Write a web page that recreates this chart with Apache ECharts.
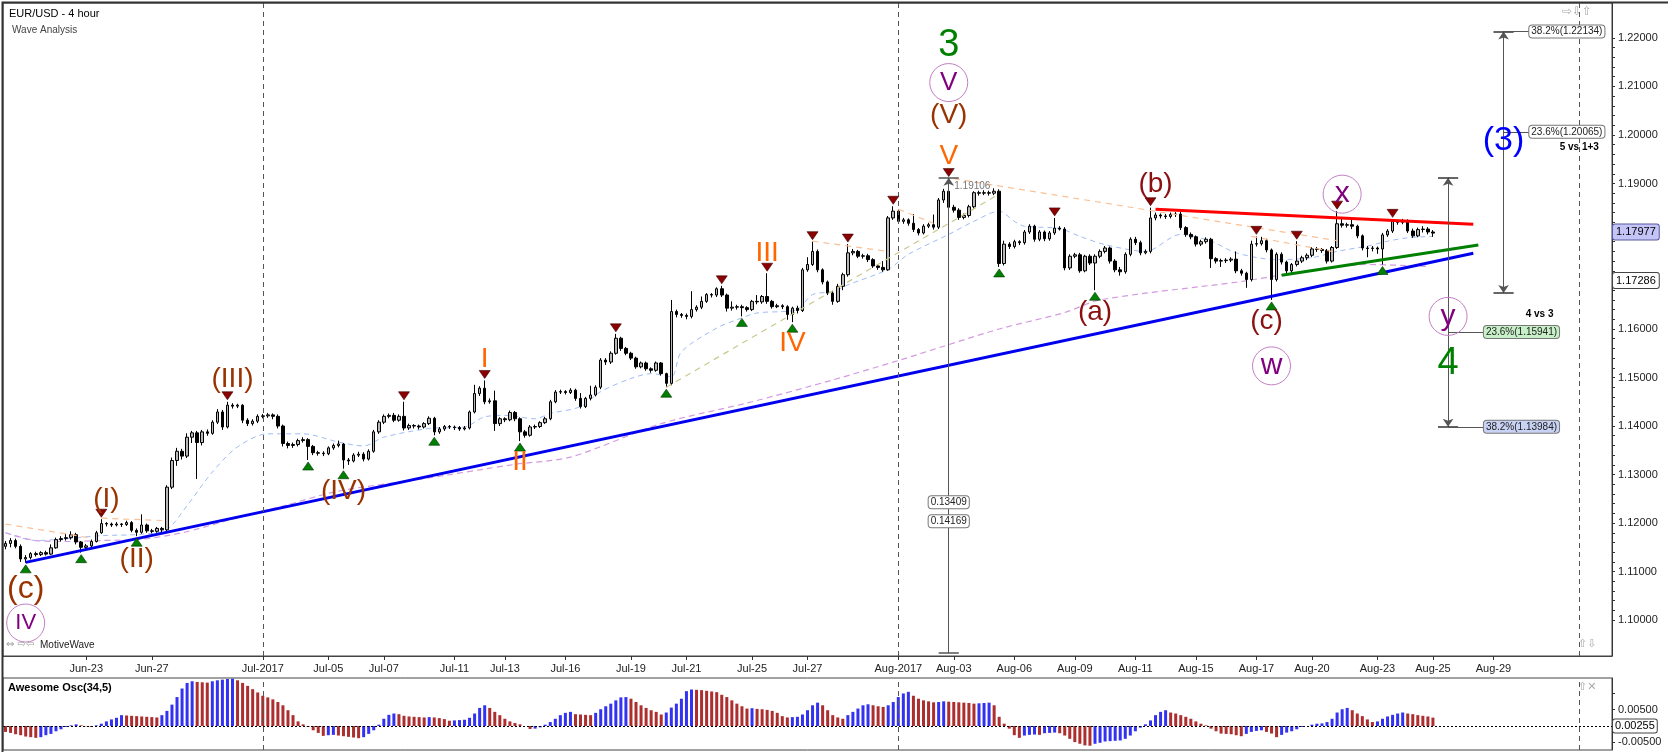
<!DOCTYPE html>
<html>
<head>
<meta charset="utf-8">
<script src="https://cdn.jsdelivr.net/npm/echarts@6/dist/echarts.min.js"></script>
<style>
  html, body { margin: 0; padding: 0; background: #fff; }
  #main { width: 1668px; height: 752px; }
</style>
</head>
<body>
<div id="main"></div>
<script>
var chartDom = document.getElementById('main');
var myChart = echarts.init(chartDom);
var option;

// 4h bar slots on the time axis (data + empty future space)
var slotCount = 319;
var tickIdx = [16, 29, 51, 64, 75, 89, 99, 111, 124, 135, 148, 159, 177, 188, 200, 212, 224, 236, 248, 259, 272, 283, 295];
var tickLabels = ['Jun-23', 'Jun-27', 'Jul-2017', 'Jul-05', 'Jul-07', 'Jul-11', 'Jul-13', 'Jul-16', 'Jul-19', 'Jul-21', 'Jul-25', 'Jul-27',
  'Aug-2017', 'Aug-03', 'Aug-06', 'Aug-09', 'Aug-11', 'Aug-15', 'Aug-17', 'Aug-20', 'Aug-23', 'Aug-25', 'Aug-29'];
var monthIdx = [51, 177];
var endIdx = 312;

var yTicks = [1.10, 1.11, 1.12, 1.13, 1.14, 1.15, 1.16, 1.17, 1.18, 1.19, 1.20, 1.21, 1.22];
var aoTicks = [-0.005, 0.005];

// EUR/USD 4h candles: [open, close, low, high]
var candles = [
  [1.1152,1.1158,1.1146,1.1163],[1.1158,1.1164,1.1150,1.1169],[1.1164,1.1152,1.1148,1.1168],[1.1152,1.1126,1.1120,1.1156],[1.1126,1.1129,1.1118,1.1134],
  [1.1129,1.1137,1.1125,1.1140],[1.1137,1.1135,1.1131,1.1141],[1.1135,1.1139,1.1132,1.1142],[1.1139,1.1136,1.1133,1.1143],[1.1136,1.1149,1.1134,1.1156],
  [1.1149,1.1166,1.1147,1.1170],[1.1166,1.1168,1.1162,1.1173],[1.1168,1.1170,1.1164,1.1178],[1.1170,1.1176,1.1166,1.1183],[1.1176,1.1161,1.1156,1.1180],
  [1.1161,1.1150,1.1139,1.1163],[1.1150,1.1153,1.1145,1.1157],[1.1153,1.1162,1.1150,1.1166],[1.1162,1.1180,1.1160,1.1184],[1.1180,1.1199,1.1178,1.1208],
  [1.1199,1.1198,1.1193,1.1202],[1.1198,1.1196,1.1192,1.1201],[1.1196,1.1198,1.1193,1.1202],[1.1198,1.1197,1.1192,1.1200],[1.1197,1.1201,1.1194,1.1205],
  [1.1201,1.1185,1.1181,1.1204],[1.1185,1.1181,1.1173,1.1189],[1.1181,1.1196,1.1178,1.1218],[1.1196,1.1184,1.1180,1.1199],[1.1184,1.1183,1.1179,1.1188],
  [1.1183,1.1189,1.1180,1.1192],[1.1189,1.1186,1.1181,1.1192],[1.1186,1.1274,1.1183,1.1278],[1.1274,1.1329,1.1270,1.1335],[1.1329,1.1348,1.1318,1.1355],
  [1.1348,1.1338,1.1331,1.1353],[1.1338,1.1377,1.1334,1.1385],[1.1377,1.1386,1.1365,1.1390],[1.1386,1.1366,1.1291,1.1390],[1.1366,1.1388,1.1360,1.1392],
  [1.1388,1.1385,1.1380,1.1393],[1.1385,1.1408,1.1382,1.1412],[1.1408,1.1429,1.1404,1.1435],[1.1429,1.1398,1.1392,1.1433],[1.1398,1.1443,1.1395,1.1450],
  [1.1443,1.1441,1.1436,1.1447],[1.1441,1.1443,1.1437,1.1446],[1.1443,1.1412,1.1406,1.1445],[1.1412,1.1405,1.1400,1.1416],[1.1405,1.1410,1.1401,1.1414],
  [1.1410,1.1420,1.1406,1.1424],[1.1420,1.1421,1.1416,1.1425],[1.1421,1.1423,1.1417,1.1427],[1.1423,1.1420,1.1414,1.1426],[1.1420,1.1400,1.1395,1.1424],
  [1.1400,1.1364,1.1358,1.1403],[1.1364,1.1360,1.1354,1.1368],[1.1360,1.1362,1.1355,1.1366],[1.1362,1.1370,1.1358,1.1374],[1.1370,1.1372,1.1366,1.1377],
  [1.1372,1.1358,1.1330,1.1375],[1.1358,1.1345,1.1340,1.1361],[1.1345,1.1344,1.1339,1.1349],[1.1344,1.1343,1.1338,1.1348],[1.1343,1.1355,1.1340,1.1358],
  [1.1355,1.1360,1.1351,1.1364],[1.1360,1.1363,1.1356,1.1370],[1.1363,1.1330,1.1312,1.1365],[1.1330,1.1328,1.1320,1.1334],[1.1328,1.1340,1.1325,1.1344],
  [1.1340,1.1342,1.1336,1.1347],[1.1342,1.1332,1.1327,1.1346],[1.1332,1.1348,1.1329,1.1352],[1.1348,1.1388,1.1345,1.1392],[1.1388,1.1408,1.1384,1.1412],
  [1.1408,1.1420,1.1404,1.1424],[1.1420,1.1422,1.1416,1.1426],[1.1422,1.1412,1.1408,1.1427],[1.1412,1.1420,1.1409,1.1424],[1.1420,1.1396,1.1391,1.1450],
  [1.1396,1.1401,1.1392,1.1405],[1.1401,1.1400,1.1395,1.1404],[1.1400,1.1398,1.1393,1.1403],[1.1398,1.1405,1.1395,1.1408],[1.1405,1.1416,1.1402,1.1420],
  [1.1416,1.1388,1.1381,1.1419],[1.1388,1.1394,1.1384,1.1398],[1.1394,1.1399,1.1390,1.1402],[1.1399,1.1398,1.1394,1.1402],[1.1398,1.1397,1.1392,1.1401],
  [1.1397,1.1394,1.1390,1.1400],[1.1394,1.1396,1.1391,1.1400],[1.1396,1.1429,1.1393,1.1432],[1.1429,1.1467,1.1426,1.1485],[1.1467,1.1478,1.1462,1.1482],
  [1.1478,1.1450,1.1445,1.1494],[1.1450,1.1452,1.1446,1.1457],[1.1452,1.1405,1.1390,1.1473],[1.1405,1.1415,1.1400,1.1418],[1.1415,1.1413,1.1408,1.1418],
  [1.1413,1.1428,1.1410,1.1432],[1.1428,1.1415,1.1410,1.1431],[1.1415,1.1388,1.1369,1.1418],[1.1388,1.1381,1.1376,1.1392],[1.1381,1.1398,1.1378,1.1402],
  [1.1398,1.1399,1.1394,1.1403],[1.1399,1.1407,1.1396,1.1410],[1.1407,1.1415,1.1404,1.1419],[1.1415,1.1450,1.1412,1.1454],[1.1450,1.1470,1.1447,1.1474],
  [1.1470,1.1471,1.1466,1.1475],[1.1471,1.1469,1.1465,1.1474],[1.1469,1.1474,1.1466,1.1478],[1.1474,1.1457,1.1452,1.1477],[1.1457,1.1440,1.1436,1.1468],
  [1.1440,1.1457,1.1437,1.1460],[1.1457,1.1464,1.1453,1.1483],[1.1464,1.1480,1.1461,1.1484],[1.1480,1.1536,1.1476,1.1540],[1.1536,1.1532,1.1526,1.1540],
  [1.1532,1.1550,1.1528,1.1554],[1.1550,1.1581,1.1547,1.1590],[1.1581,1.1560,1.1555,1.1584],[1.1560,1.1550,1.1546,1.1563],[1.1550,1.1540,1.1536,1.1553],
  [1.1540,1.1522,1.1518,1.1543],[1.1522,1.1530,1.1519,1.1533],[1.1530,1.1518,1.1514,1.1533],[1.1518,1.1515,1.1510,1.1521],[1.1515,1.1530,1.1512,1.1533],
  [1.1530,1.1508,1.1504,1.1532],[1.1508,1.1488,1.1480,1.1510],[1.1488,1.1636,1.1484,1.1660],[1.1636,1.1630,1.1624,1.1640],[1.1630,1.1628,1.1623,1.1633],
  [1.1628,1.1626,1.1620,1.1632],[1.1626,1.1640,1.1622,1.1678],[1.1640,1.1645,1.1636,1.1649],[1.1645,1.1657,1.1641,1.1667],[1.1657,1.1671,1.1654,1.1674],
  [1.1671,1.1670,1.1665,1.1674],[1.1670,1.1683,1.1666,1.1686],[1.1683,1.1670,1.1666,1.1689],[1.1670,1.1643,1.1636,1.1673],[1.1643,1.1645,1.1638,1.1657],
  [1.1645,1.1646,1.1640,1.1650],[1.1646,1.1644,1.1626,1.1650],[1.1644,1.1640,1.1636,1.1647],[1.1640,1.1657,1.1637,1.1660],[1.1657,1.1656,1.1651,1.1670],
  [1.1656,1.1667,1.1652,1.1670],[1.1667,1.1657,1.1652,1.1715],[1.1657,1.1646,1.1642,1.1660],[1.1646,1.1648,1.1643,1.1652],[1.1648,1.1646,1.1641,1.1651],
  [1.1646,1.1630,1.1619,1.1649],[1.1630,1.1643,1.1614,1.1646],[1.1643,1.1638,1.1632,1.1648],[1.1638,1.1722,1.1635,1.1726],[1.1722,1.1733,1.1718,1.1748],
  [1.1733,1.1760,1.1730,1.1780],[1.1760,1.1722,1.1717,1.1764],[1.1722,1.1697,1.1692,1.1725],[1.1697,1.1674,1.1670,1.1700],[1.1674,1.1657,1.1650,1.1678],
  [1.1657,1.1688,1.1654,1.1693],[1.1688,1.1712,1.1680,1.1716],[1.1712,1.1757,1.1708,1.1775],[1.1757,1.1760,1.1752,1.1765],[1.1760,1.1750,1.1746,1.1763],
  [1.1750,1.1751,1.1745,1.1755],[1.1751,1.1743,1.1738,1.1755],[1.1743,1.1730,1.1726,1.1746],[1.1730,1.1727,1.1722,1.1734],[1.1727,1.1722,1.1718,1.1740],
  [1.1722,1.1829,1.1720,1.1833],[1.1829,1.1843,1.1825,1.1853],[1.1843,1.1822,1.1818,1.1847],[1.1822,1.1825,1.1817,1.1829],[1.1825,1.1818,1.1813,1.1828],
  [1.1818,1.1805,1.1800,1.1837],[1.1805,1.1798,1.1793,1.1808],[1.1798,1.1812,1.1795,1.1816],[1.1812,1.1815,1.1808,1.1819],[1.1815,1.1810,1.1805,1.1836],
  [1.1810,1.1866,1.1806,1.1870],[1.1866,1.1884,1.1860,1.1889],[1.1884,1.1851,1.1846,1.1910],[1.1851,1.1845,1.1840,1.1856],[1.1845,1.1830,1.1825,1.1849],
  [1.1830,1.1834,1.1826,1.1838],[1.1834,1.1852,1.1830,1.1856],[1.1852,1.1881,1.1848,1.1884],[1.1881,1.1880,1.1875,1.1885],[1.1880,1.1881,1.1876,1.1886],
  [1.1881,1.1880,1.1875,1.1885],[1.1880,1.1884,1.1876,1.1890],[1.1884,1.1735,1.1728,1.1888],[1.1735,1.1775,1.1731,1.1782],[1.1775,1.1770,1.1765,1.1779],
  [1.1770,1.1780,1.1766,1.1784],[1.1780,1.1778,1.1773,1.1783],[1.1778,1.1800,1.1774,1.1804],[1.1800,1.1812,1.1796,1.1816],[1.1812,1.1785,1.1780,1.1815],
  [1.1785,1.1800,1.1781,1.1804],[1.1800,1.1786,1.1781,1.1803],[1.1786,1.1798,1.1782,1.1802],[1.1798,1.1808,1.1794,1.1829],[1.1808,1.1806,1.1803,1.1812],
  [1.1806,1.1726,1.1721,1.1810],[1.1726,1.1750,1.1722,1.1754],[1.1750,1.1753,1.1746,1.1757],[1.1753,1.1720,1.1716,1.1757],[1.1720,1.1750,1.1717,1.1753],
  [1.1750,1.1736,1.1732,1.1754],[1.1736,1.1750,1.1680,1.1754],[1.1750,1.1760,1.1746,1.1764],[1.1760,1.1767,1.1756,1.1771],[1.1767,1.1740,1.1735,1.1770],
  [1.1740,1.1722,1.1717,1.1744],[1.1722,1.1718,1.1710,1.1728],[1.1718,1.1754,1.1714,1.1758],[1.1754,1.1785,1.1750,1.1789],[1.1785,1.1778,1.1773,1.1790],
  [1.1778,1.1757,1.1752,1.1782],[1.1757,1.1760,1.1754,1.1764],[1.1760,1.1829,1.1756,1.1850],[1.1829,1.1835,1.1824,1.1840],[1.1835,1.1833,1.1828,1.1838],
  [1.1833,1.1832,1.1827,1.1837],[1.1832,1.1836,1.1828,1.1840],[1.1836,1.1837,1.1831,1.1841],[1.1837,1.1809,1.1804,1.1842],[1.1809,1.1795,1.1790,1.1812],
  [1.1795,1.1790,1.1785,1.1799],[1.1790,1.1775,1.1770,1.1793],[1.1775,1.1780,1.1771,1.1784],[1.1780,1.1785,1.1776,1.1789],[1.1785,1.1745,1.1726,1.1788],
  [1.1745,1.1740,1.1735,1.1748],[1.1740,1.1741,1.1728,1.1745],[1.1741,1.1742,1.1736,1.1746],[1.1742,1.1744,1.1738,1.1748],[1.1744,1.1720,1.1715,1.1760],
  [1.1720,1.1715,1.1710,1.1724],[1.1715,1.1702,1.1685,1.1718],[1.1702,1.1775,1.1698,1.1782],[1.1775,1.1776,1.1770,1.1791],[1.1776,1.1782,1.1772,1.1790],
  [1.1782,1.1763,1.1758,1.1786],[1.1763,1.1702,1.1660,1.1766],[1.1702,1.1754,1.1698,1.1758],[1.1754,1.1738,1.1733,1.1758],[1.1738,1.1720,1.1715,1.1741],
  [1.1720,1.1733,1.1712,1.1736],[1.1733,1.1740,1.1729,1.1781],[1.1740,1.1747,1.1736,1.1751],[1.1747,1.1752,1.1742,1.1756],[1.1752,1.1765,1.1748,1.1769],
  [1.1765,1.1764,1.1759,1.1769],[1.1764,1.1762,1.1757,1.1767],[1.1762,1.1740,1.1735,1.1765],[1.1740,1.1768,1.1737,1.1771],[1.1768,1.1817,1.1765,1.1843],
  [1.1817,1.1814,1.1809,1.1830],[1.1814,1.1815,1.1809,1.1819],[1.1815,1.1812,1.1806,1.1826],[1.1812,1.1792,1.1787,1.1815],[1.1792,1.1767,1.1762,1.1795],
  [1.1767,1.1766,1.1748,1.1771],[1.1766,1.1767,1.1760,1.1771],[1.1767,1.1765,1.1755,1.1770],[1.1765,1.1794,1.1733,1.1798],[1.1794,1.1802,1.1790,1.1806],
  [1.1802,1.1822,1.1798,1.1826],[1.1822,1.1820,1.1815,1.1825],[1.1820,1.1823,1.1816,1.1827],[1.1823,1.1802,1.1798,1.1826],[1.1802,1.1792,1.1788,1.1807],
  [1.1792,1.1805,1.1789,1.1809],[1.1805,1.1806,1.1799,1.1812],[1.1806,1.1800,1.1795,1.1810],[1.1800,1.17977,1.1790,1.1804]
];

// Awesome Oscillator (34,5), one value per bar
var aoValues = [
  -0.0018,-0.0021,-0.0025,-0.0028,-0.0032,-0.0034,-0.0036,-0.0034,-0.0028,-0.0024,-0.0016,-0.0010,-0.0003,
  0.0002,0.0005,0.0002,-0.0001,-0.0003,0.0002,0.0007,0.0014,0.0020,0.0025,
  0.0033,0.0032,0.0031,0.0030,0.0029,0.0028,0.0027,0.0026,
  0.0033,0.0046,0.0065,0.0088,0.0114,0.0131,0.0136,
  0.0134,0.0133,0.0132,
  0.0136,0.0139,0.0141,0.0143,0.0144,
  0.0139,0.0131,0.0122,0.0112,0.0102,0.0092,0.0087,0.0081,0.0073,0.0063,0.0048,0.0033,0.0014,0.0005,-0.0003,-0.0013,-0.0021,
  -0.0030,-0.0028,-0.0027,-0.0029,-0.0031,-0.0033,-0.0035,-0.0037,
  -0.0034,-0.0024,-0.0013,0.0004,0.0022,0.0034,0.0038,
  0.0036,0.0031,0.0029,0.0028,0.0027,0.0026,
  0.0027,
  0.0026,0.0024,0.0021,0.0016,
  0.0017,0.0018,0.0019,0.0025,0.0038,0.0055,0.0063,
  0.0055,0.0043,0.0033,0.0022,0.0014,0.0009,0.0005,0.0000,-0.0009,
  -0.0008,-0.0004,0.0004,0.0012,0.0022,0.0033,0.0040,0.0043,
  0.0036,0.0035,0.0034,0.0033,
  0.0040,0.0051,0.0060,0.0068,0.0078,0.0087,0.0088,
  0.0083,0.0073,0.0063,0.0055,0.0048,0.0043,0.0035,
  0.0041,0.0056,0.0068,0.0083,0.0106,0.0111,
  0.0110,0.0109,0.0107,0.0105,0.0103,0.0095,0.0088,0.0078,0.0068,0.0060,0.0053,
  0.0054,
  0.0052,0.0051,0.0049,0.0046,0.0040,0.0030,0.0026,
  0.0027,0.0028,0.0035,0.0048,0.0063,0.0071,
  0.0063,0.0048,0.0033,0.0026,0.0022,
  0.0033,0.0043,0.0053,0.0063,0.0066,
  0.0063,0.0060,0.0058,
  0.0063,0.0073,0.0088,0.0099,0.0104,
  0.0092,0.0083,0.0078,0.0075,0.0072,
  0.0073,0.0075,
  0.0074,0.0073,0.0072,0.0071,0.0070,0.0068,
  0.0069,0.0070,0.0071,
  0.0063,0.0028,0.0007,-0.0008,-0.0028,-0.0036,
  -0.0029,-0.0027,-0.0026,
  -0.0027,
  -0.0022,-0.0021,-0.0020,
  -0.0022,-0.0029,-0.0039,-0.0049,-0.0054,-0.0059,-0.0060,
  -0.0054,-0.0051,-0.0047,-0.0046,-0.0045,-0.0044,-0.0039,-0.0029,-0.0016,-0.0005,0.0005,0.0017,0.0033,0.0043,0.0048,
  0.0041,0.0038,0.0033,0.0028,0.0022,0.0014,0.0007,0.0002,-0.0008,-0.0016,-0.0023,-0.0024,-0.0025,-0.0028,-0.0031,
  -0.0024,-0.0018,-0.0015,-0.0013,
  -0.0018,-0.0023,-0.0034,
  -0.0027,-0.0020,-0.0016,-0.0010,-0.0003,0.0000,0.0004,0.0007,0.0008,0.0012,0.0022,0.0041,0.0051,0.0055,
  0.0048,0.0038,0.0030,0.0020,0.0012,
  0.0014,0.0022,0.0029,0.0034,0.0038,0.0041,
  0.0038,0.0036,0.0033,0.0031,0.0029,0.00255
];

// moving averages at sample bars: [bar, value]
var fastMA = [[0,1.1180],[6,1.1164],[19,1.1174],[27,1.1177],[32,1.1187],[36,1.1236],[41,1.1305],[46,1.1357],[52,1.1384],[59,1.1384],
  [66,1.1367],[71,1.1359],[75,1.1377],[84,1.1395],[91,1.1398],[95,1.1419],[99,1.1422],[105,1.1415],[108,1.1426],[114,1.1440],
  [118,1.1471],[124,1.1498],[128,1.1508],[132,1.1502],[134,1.1553],[141,1.1602],[145,1.1619],[149,1.1633],[154,1.1636],[157,1.1640],
  [160,1.1671],[164,1.1677],[167,1.1691],[175,1.1723],[179,1.1754],[187,1.1795],[192,1.1822],[197,1.1843],[200,1.1822],[202,1.1812],
  [209,1.1807],[213,1.1791],[218,1.1774],[226,1.1760],[233,1.1795],[239,1.1781],[244,1.1757],[252,1.1743],[259,1.1747],[264,1.1760],
  [270,1.1771],[274,1.1781],[278,1.1788],[283,1.1791]];
var slowMA = [[0,1.1180],[6,1.1164],[12,1.1162],[19,1.1164],[27,1.1167],[35,1.1180],[45,1.1208],[56,1.1238],[66,1.1266],[82,1.1290],
  [101,1.1321],[112,1.1336],[130,1.1405],[148,1.1450],[164,1.1495],[177,1.1535],[197,1.1600],[210,1.1634],[217,1.1660],[245,1.1698],
  [257,1.1718],[270,1.1733],[282,1.1729]];

// wave annotations: [text, bar, price, colour, font size]
var BROWN = '#993300', MAROON = '#8b1010', ORANGE = '#ff6600', GREEN = '#008000', BLUE = '#0000ff', PURPLE = '#800080';
var waveLabels = [
  ['(c)', 4, 1.1063, BROWN, 32], ['(I)', 20, 1.1249, BROWN, 28], ['(II)', 26, 1.1125, BROWN, 28],
  ['(III)', 45, 1.1496, BROWN, 28], ['(IV)', 67, 1.1266, BROWN, 28],
  ['I', 95, 1.1538, ORANGE, 28], ['II', 102, 1.1325, ORANGE, 28], ['III', 151, 1.1756, ORANGE, 28],
  ['IV', 156, 1.1570, ORANGE, 28], ['V', 187, 1.1957, ORANGE, 28], ['(V)', 187, 1.2040, BROWN, 28],
  ['3', 187, 1.2185, GREEN, 38], ['(a)', 216, 1.1634, MAROON, 28], ['(b)', 228, 1.1899, MAROON, 28],
  ['(c)', 250, 1.1616, MAROON, 28], ['4', 286, 1.1529, GREEN, 38], ['(3)', 297, 1.1988, BLUE, 34]
];
var circledLabels = [['IV', 4, 1.0994, 22], ['V', 187, 1.2108, 26], ['w', 251, 1.1524, 30], ['x', 265, 1.1878, 30], ['y', 286, 1.1626, 30]];
var swingHighs = [19, 44, 79, 95, 121, 142, 151, 160, 167, 176, 187, 208, 227, 248, 256, 264, 275];
var swingLows = [4, 15, 26, 60, 67, 85, 102, 131, 146, 156, 197, 216, 251, 273];

// drawn lines: [bar1, price1, bar2, price2]
var blueTrend = [4, 1.1119, 291, 1.1756];
var redTrend = [228, 1.1847, 291, 1.1816];
var greenTrend = [253, 1.1711, 292, 1.1773];
var oliveTrend = [131, 1.1480, 197, 1.1878];
var orangeTrends = [[0, 1.1198, 17, 1.1169], [19, 1.1210, 32, 1.1205], [160, 1.1781, 175, 1.1760],
  [177, 1.1847, 184, 1.1818], [188, 1.1910, 264, 1.1782], [247, 1.1791, 264, 1.1758]];

// fibonacci projections
var fib3 = { bar: 297, top: 1.22134, bottom: 1.1674, labelBar: 302, levels: [['38.2%(1.22134)', 1.22134], ['23.6%(1.20065)', 1.20065]] };
var fib4 = { bar: 286, top: 1.1912, bottom: 1.13984, labelBar: 293, levels: [['23.6%(1.15941)', 1.15941, '#c8f0c8'], ['38.2%(1.13984)', 1.13984, '#c8d2f4']] };
var waveRuler = { bar: 187, top: 1.1912, bottom: 1.0932, readings: [['0.13409', 1.1243], ['0.14169', 1.1204]], peak: '1.19106' };

var categories = [];
for (var k = 0; k < slotCount; k++) categories.push('');
tickIdx.forEach(function (ix, n) { categories[ix] = tickLabels[n]; });

var FONT = 'Liberation Sans';
var HIDDEN = { color: 'rgba(0,0,0,0)', width: 0 };

function textMark(t, i, p, color, size) {
  return { coord: [i, p], name: t, symbol: 'circle', symbolSize: 1, itemStyle: { color: 'rgba(0,0,0,0)' },
    label: { show: true, position: 'inside', formatter: '{b}', color: color, fontSize: size, fontFamily: FONT } };
}
function segment(a, style) {
  return [{ coord: [a[0], a[1]], lineStyle: style }, { coord: [a[2], a[3]] }];
}
function boxMark(t, i, p, bg, pos) {
  return { coord: [i, p], name: t, symbol: 'circle', symbolSize: 1, itemStyle: { color: 'rgba(0,0,0,0)' },
    label: { show: true, position: pos || 'right', distance: 0, formatter: '{b}', color: '#222', fontSize: 10, fontFamily: FONT,
      backgroundColor: bg || '#fff', borderColor: '#777', borderWidth: 1, borderRadius: 3, padding: [1, 2] } };
}
function axisBox(t, v, bg, border) {
  return { yAxis: v, lineStyle: HIDDEN,
    label: { show: true, position: 'end', distance: 1, formatter: t, color: '#000', fontSize: 11, fontFamily: FONT,
      backgroundColor: bg, borderColor: border, borderWidth: 1, borderRadius: 2, padding: [2, 3] } };
}

var points = [];
waveLabels.forEach(function (w) { points.push(textMark(w[0], w[1], w[2], w[3], w[4])); });
circledLabels.forEach(function (c) {
  points.push({ coord: [c[1], c[2]], name: c[0], symbol: 'circle', symbolSize: 38,
    itemStyle: { color: 'rgba(0,0,0,0)', borderColor: '#c37fc3', borderWidth: 1 },
    label: { show: true, position: 'inside', formatter: '{b}', color: PURPLE, fontSize: c[3], fontFamily: FONT } });
});
swingHighs.forEach(function (i) {
  points.push({ coord: [i, candles[i][3]], symbol: 'path://M0,0L10,0L5,8Z', symbolSize: [11, 8], symbolOffset: [0, -6],
    itemStyle: { color: '#8b0000', borderColor: '#3a0000', borderWidth: 0.6 }, label: { show: false } });
});
swingLows.forEach(function (i) {
  points.push({ coord: [i, candles[i][2]], symbol: 'path://M5,0L10,8L0,8Z', symbolSize: [11, 8], symbolOffset: [0, 6],
    itemStyle: { color: '#008000', borderColor: '#003300', borderWidth: 0.6 }, label: { show: false } });
});
fib3.levels.forEach(function (l) { points.push(boxMark(l[0], fib3.labelBar, l[1])); });
fib4.levels.forEach(function (l) { points.push(boxMark(l[0], fib4.labelBar, l[1], l[2])); });
waveRuler.readings.forEach(function (r) { points.push(boxMark(r[0], waveRuler.bar, r[1], '#fff', 'inside')); });
points.push({ coord: [waveRuler.bar + 1, 1.1895], name: waveRuler.peak, symbol: 'circle', symbolSize: 1, itemStyle: { color: 'rgba(0,0,0,0)' },
  label: { show: true, position: 'right', distance: 0, formatter: '{b}', color: '#777', fontSize: 10, fontFamily: FONT } });
points.push({ coord: [316, 1.1974], name: '5 vs 1+3', symbol: 'circle', symbolSize: 1, itemStyle: { color: 'rgba(0,0,0,0)' },
  label: { show: true, position: 'left', distance: 0, formatter: '{b}', color: '#000', fontWeight: 'bold', fontSize: 10, fontFamily: FONT } });
points.push({ coord: [307, 1.1630], name: '4 vs 3', symbol: 'circle', symbolSize: 1, itemStyle: { color: 'rgba(0,0,0,0)' },
  label: { show: true, position: 'left', distance: 0, formatter: '{b}', color: '#000', fontWeight: 'bold', fontSize: 10, fontFamily: FONT } });

var ruler = { color: '#555', width: 1, type: 'solid' };
var lines = [];
lines.push(segment(blueTrend, { color: '#0000ee', width: 3, type: 'solid' }));
lines.push(segment(redTrend, { color: '#ff0000', width: 3, type: 'solid' }));
lines.push(segment(greenTrend, { color: '#008000', width: 3, type: 'solid' }));
lines.push(segment(oliveTrend, { color: '#c9c98e', width: 1.2, type: [6, 5] }));
orangeTrends.forEach(function (o) { lines.push(segment(o, { color: '#f9c197', width: 1.2, type: [6, 5] })); });
[fib3, fib4].forEach(function (f) {
  lines.push([{ coord: [f.bar, f.bottom], symbol: 'arrow', symbolSize: 8, lineStyle: ruler }, { coord: [f.bar, f.top], symbol: 'arrow', symbolSize: 8 }]);
  lines.push(segment([f.bar - 2, f.top, f.bar + 2, f.top], { color: '#333', width: 1.5, type: 'solid' }));
  lines.push(segment([f.bar - 2, f.bottom, f.bar + 2, f.bottom], { color: '#333', width: 1.5, type: 'solid' }));
  f.levels.forEach(function (l) { lines.push(segment([f.bar, l[1], f.labelBar, l[1]], ruler)); });
});
lines.push([{ coord: [waveRuler.bar, waveRuler.bottom], symbol: 'none', lineStyle: ruler }, { coord: [waveRuler.bar, waveRuler.top], symbol: 'arrow', symbolSize: 8 }]);
lines.push(segment([waveRuler.bar - 2, waveRuler.top, waveRuler.bar + 2, waveRuler.top], { color: '#555', width: 1.5, type: 'solid' }));
lines.push(segment([waveRuler.bar - 2, waveRuler.bottom, waveRuler.bar + 2, waveRuler.bottom], { color: '#555', width: 1.5, type: 'solid' }));
monthIdx.concat([endIdx]).forEach(function (ix) {
  lines.push({ xAxis: ix, lineStyle: { color: '#555', width: 1, type: [5, 4] } });
});
lines.push(axisBox('1.17977', candles[candles.length - 1][1], '#c4c4f6', '#5a5aa0'));
lines.push(axisBox('1.17286', slowMA[slowMA.length - 1][1] - 0.00004, '#fff', '#444'));

var minorTicks = [];
for (var t = 0; t < yTicks.length - 1; t++) {
  for (var s = 0; s < 5; s++) minorTicks.push(+(yTicks[t] + s * 0.002).toFixed(3));
}
minorTicks.push(yTicks[yTicks.length - 1]);

var aoData = aoValues.map(function (v, k) {
  var up = k > 0 && v > aoValues[k - 1];
  return { value: v, itemStyle: { color: up ? '#3232f0' : '#ad2e2e' } };
});

option = {
  animation: false,
  backgroundColor: '#fff',
  textStyle: { fontFamily: FONT },
  grid: [
    { left: 3, right: 56, top: 3, bottom: 96, show: true, borderColor: '#444', borderWidth: 1, backgroundColor: '#fff' },
    { left: 3, right: 56, top: 678, bottom: 2, show: true, borderColor: '#444', borderWidth: 1, backgroundColor: '#fff' }
  ],
  xAxis: [
    { type: 'category', gridIndex: 0, data: categories, boundaryGap: true,
      axisLine: { show: true, lineStyle: { color: '#444' } },
      axisTick: { show: true, alignWithLabel: true, length: 4, lineStyle: { color: '#333' },
        interval: function (i, v) { return v !== ''; } },
      axisLabel: { interval: 0, margin: 7, color: '#222', fontSize: 11, fontFamily: FONT },
      splitLine: { show: false } },
    { type: 'category', gridIndex: 1, data: categories, boundaryGap: true,
      axisLine: { show: false }, axisTick: { show: false }, axisLabel: { show: false }, splitLine: { show: false } }
  ],
  yAxis: [
    { type: 'value', gridIndex: 0, position: 'right', min: 1.0926, max: 1.2272,
      axisLine: { show: true, lineStyle: { color: '#333' } },
      axisTick: { show: true, length: 3, customValues: minorTicks, lineStyle: { color: '#333' } },
      axisLabel: { customValues: yTicks, margin: 6, color: '#222', fontSize: 11, fontFamily: FONT,
        formatter: function (v) { return v.toFixed(5); } },
      splitLine: { show: false } },
    { type: 'value', gridIndex: 1, position: 'right', min: -0.0073, max: 0.0146,
      axisLine: { show: true, lineStyle: { color: '#333' } },
      axisTick: { show: true, length: 3, customValues: [-0.005, 0, 0.005, 0.01], lineStyle: { color: '#333' } },
      axisLabel: { customValues: aoTicks, margin: 6, color: '#222', fontSize: 11, fontFamily: FONT,
        formatter: function (v) { return v.toFixed(5); } },
      splitLine: { show: false } }
  ],
  graphic: [
    { type: 'text', left: 9, top: 8, style: { text: 'EUR/USD - 4 hour', font: '11px "Liberation Sans"', fill: '#000' } },
    { type: 'text', left: 12, top: 25, style: { text: 'Wave Analysis', font: '10px "Liberation Sans"', fill: '#444' } },
    { type: 'text', left: 6, top: 639, style: { text: '⇔ ⇨⇦', font: '10px "DejaVu Sans"', fill: '#999' } },
    { type: 'text', left: 40, top: 640, style: { text: 'MotiveWave', font: '10px "Liberation Sans"', fill: '#222' } },
    { type: 'text', left: 1562, top: 6, style: { text: '⇨⇩⇧', font: '12px "DejaVu Sans"', fill: '#aaa' } },
    { type: 'text', left: 1578, top: 639, style: { text: '⇧⇩', font: '11px "DejaVu Sans"', fill: '#aaa' } },
    { type: 'text', left: 1578, top: 682, style: { text: '⇧✕', font: '11px "DejaVu Sans"', fill: '#aaa' } },
    { type: 'text', left: 8, top: 682, style: { text: 'Awesome Osc(34,5)', font: 'bold 11px "Liberation Sans"', fill: '#000' } },
    { type: 'rect', left: 0, top: 0, shape: { width: 1667, height: 751 }, style: { fill: 'none', stroke: '#333', lineWidth: 2 }, z: 100 }
  ],
  series: [
    { name: 'EUR/USD', type: 'candlestick', xAxisIndex: 0, yAxisIndex: 0, data: candles, barWidth: 3, clip: false,
      itemStyle: { color: '#b8b8b8', color0: '#000', borderColor: '#000', borderColor0: '#000', borderWidth: 1 },
      markPoint: { silent: true, data: points, z: 10 },
      markLine: { silent: true, symbol: 'none', label: { show: false }, data: lines } },
    { name: 'fast MA', type: 'line', xAxisIndex: 0, yAxisIndex: 0, data: fastMA, showSymbol: false, smooth: 0.3, clip: false,
      lineStyle: { color: '#9fbcf5', width: 1, type: [5, 4] }, z: 1 },
    { name: 'slow MA', type: 'line', xAxisIndex: 0, yAxisIndex: 0, data: slowMA, showSymbol: false, smooth: 0.3, clip: false,
      lineStyle: { color: '#d39be0', width: 1.2, type: [6, 4] }, z: 1 },
    { name: 'Awesome Osc', type: 'bar', xAxisIndex: 1, yAxisIndex: 1, data: aoData, barWidth: 3, clip: false,
      markLine: { silent: true, symbol: 'none', data: [
        { yAxis: 0, lineStyle: { color: '#000', width: 1, type: [2, 2] }, label: { show: false } },
        { xAxis: monthIdx[0], lineStyle: { color: '#555', width: 1, type: [5, 4] }, label: { show: false } },
        { xAxis: monthIdx[1], lineStyle: { color: '#555', width: 1, type: [5, 4] }, label: { show: false } },
        { xAxis: endIdx, lineStyle: { color: '#555', width: 1, type: [5, 4] }, label: { show: false } },
        (function () { var b = axisBox('0.00255', aoValues[aoValues.length - 1], '#fff', '#444'); b.label.padding = [1, 2]; return b; })()
      ] } }
  ]
};

myChart.setOption(option);
</script>
</body>
</html>
